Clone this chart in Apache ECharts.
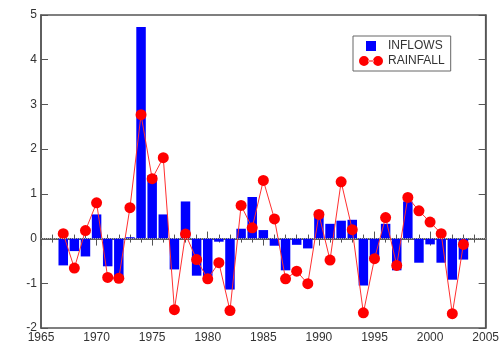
<!DOCTYPE html>
<html><head><meta charset="utf-8">
<script src="https://cdn.jsdelivr.net/npm/echarts@6/dist/echarts.min.js"></script>
<style>html,body{margin:0;padding:0;background:#fff}#c{width:502px;height:345px}</style>
</head><body><div id="c"></div>
<script>
const years = [1967,1968,1969,1970,1971,1972,1973,1974,1975,1976,1977,1978,1979,1980,1981,1982,1983,1984,1985,1986,1987,1988,1989,1990,1991,1992,1993,1994,1995,1996,1997,1998,1999,2000,2001,2002,2003];
const inflows = [-0.60,-0.28,-0.40,0.54,-0.62,-0.88,0.03,4.73,1.42,0.54,-0.69,0.83,-0.83,-0.84,-0.07,-1.14,0.22,0.93,0.19,-0.16,-0.71,-0.14,-0.22,0.60,0.33,0.40,0.42,-1.05,-0.43,0.33,-0.71,0.83,-0.54,-0.13,-0.54,-0.92,-0.47];
const rainfall = [0.11,-0.66,0.18,0.80,-0.87,-0.89,0.69,2.77,1.34,1.81,-1.59,0.10,-0.47,-0.90,-0.54,-1.61,0.74,0.24,1.30,0.44,-0.90,-0.73,-1.01,0.54,-0.48,1.27,0.20,-1.66,-0.45,0.47,-0.60,0.92,0.62,0.37,0.11,-1.68,-0.13];
const xTicks = [1965,1970,1975,1980,1985,1990,1995,2000,2005];
const yTicks = [-2,-1,0,1,2,3,4,5];

const chart = echarts.init(document.getElementById('c'));
const axisCommonX = {
  type:'value', min:1965, max:2005, interval:5,
  axisLine:{show:true,lineStyle:{color:'#555',width:1.5}},
  axisTick:{show:true,inside:true,length:7,lineStyle:{color:'#555'}},
  minorTick:{show:true,splitNumber:5,length:4,lineStyle:{color:'#555'}},
  splitLine:{show:false}
};
const axisCommonY = {
  type:'value', min:-2, max:5, interval:1,
  axisLine:{show:true,lineStyle:{color:'#555',width:1.5}},
  axisTick:{show:true,inside:true,length:7,lineStyle:{color:'#555'}},
  splitLine:{show:false}
};
const squareIcon = 'path://M0,5L0,5M24,5L24,5M7,0h10v10h-10z';
const lineIcon = 'path://M0,5a5,5 0 1,0 10,0a5,5 0 1,0 -10,0zM14,5a5,5 0 1,0 10,0a5,5 0 1,0 -10,0zM9,4.5h6v1h-6z';
chart.setOption({
  animation:false,
  backgroundColor:'#fff',
  grid:{left:41,right:14,top:15,bottom:17,show:true,borderColor:'#555',borderWidth:1.5},
  legend:{
    data:[{name:'INFLOWS',icon:squareIcon},{name:'RAINFALL',icon:lineIcon}],
    orient:'vertical', left:353, top:36,
    itemWidth:24, itemHeight:10, itemGap:3,
    borderColor:'#666', borderWidth:1, padding:[4,6,4,6],
    textStyle:{fontFamily:'Liberation Sans',fontSize:12,color:'#333'}
  },
  xAxis:[
    Object.assign({}, axisCommonX, {position:'bottom',
      axisLabel:{show:true,margin:4,fontFamily:'Liberation Sans',fontSize:12,color:'#333',
        formatter:v=>xTicks.includes(v)?String(v):''}}),
    Object.assign({}, axisCommonX, {position:'top', axisLabel:{show:false}})
  ],
  yAxis:[
    Object.assign({}, axisCommonY, {position:'left',
      axisLabel:{show:true,margin:4,fontFamily:'Liberation Sans',fontSize:12,color:'#333',
        formatter:v=>yTicks.includes(v)?String(v):''}}),
    Object.assign({}, axisCommonY, {position:'right', axisLabel:{show:false}})
  ],
  series:[
    {name:'INFLOWS', type:'bar', barWidth:9.5, itemStyle:{color:'#0000ff'},
     data: years.map((y,i)=>[y,inflows[i]]),
     markLine:{silent:true,symbol:'none',label:{show:false},
       lineStyle:{color:'#aaa',type:'dotted',width:1},data:[{yAxis:0}]}},
    {name:'RAINFALL', type:'line', symbol:'circle', symbolSize:11,
     lineStyle:{color:'#ff3030',width:1}, itemStyle:{color:'#ff0000'},
     data: years.map((y,i)=>[y,rainfall[i]]), z:3}
  ]
});
</script></body></html>
